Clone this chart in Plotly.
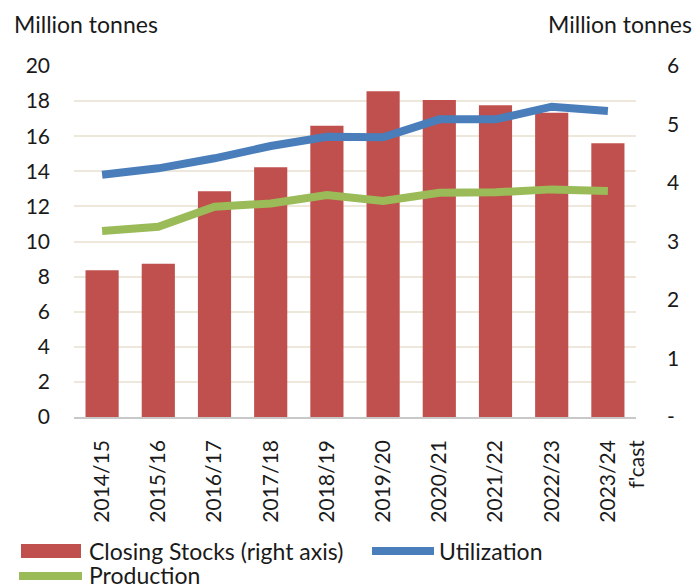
import plotly.graph_objects as go

categories = ["2014/15", "2015/16", "2016/17", "2017/18", "2018/19",
              "2019/20", "2020/21", "2021/22", "2022/23", "2023/24"]
forecast_note = "f'cast"
closing_stocks = [2.51, 2.62, 3.86, 4.27, 4.98, 5.57, 5.42, 5.33, 5.20, 4.68]
utilization = [13.8, 14.17, 14.74, 15.44, 15.97, 15.94, 16.96, 16.96, 17.68, 17.44]
production = [10.6, 10.84, 11.98, 12.17, 12.65, 12.31, 12.78, 12.8, 12.97, 12.88]

left_ticks = list(range(0, 21, 2))
right_ticks = list(range(0, 7))
right_ticktext = ["-"] + [str(v) for v in right_ticks[1:]]

RED = "#C0504D"
BLUE = "#4A7EBB"
GREEN = "#9BBB59"
FONT = "Lato"
TXT = "#1a1a1a"
TICK_SIZE = 21
TEXT_SIZE = 23

W, H = 697, 586
ML, MR, MT, MB = 74, 61, 66, 169
PW, PH = W - ML - MR, H - MT - MB


def px(x):
    return (x - ML) / PW


def py(y):
    return (H - MB - y) / PH


fig = go.Figure()
fig.add_trace(go.Bar(x=categories, y=closing_stocks, name="Closing Stocks (right axis)",
                     marker=dict(color=RED, line=dict(width=0)), yaxis="y"))
fig.add_trace(go.Scatter(x=categories, y=utilization, name="Utilization", mode="lines",
                         line=dict(color=BLUE, width=8), yaxis="y2"))
fig.add_trace(go.Scatter(x=categories, y=production, name="Production", mode="lines",
                         line=dict(color=GREEN, width=8), yaxis="y2"))

fig.update_layout(
    width=W, height=H,
    margin=dict(l=ML, r=MR, t=MT, b=MB, pad=0, autoexpand=False),
    paper_bgcolor="white", plot_bgcolor="white",
    font=dict(family=FONT, size=TICK_SIZE, color=TXT),
    showlegend=False,
    bargap=0.41,
    xaxis=dict(showgrid=False, showline=True, linecolor="#C8C8C8", linewidth=1.5,
               range=[-0.5, len(categories) - 0.5], autorange=False,
               tickangle=-90, ticks="", ticklabelstandoff=13, automargin=False,
               tickfont=dict(size=TICK_SIZE)),
    yaxis=dict(side="right", range=[0, 6], tickvals=right_ticks, ticktext=right_ticktext,
               showgrid=False, zeroline=False, ticks="", ticklabelstandoff=30,
               automargin=False, tickfont=dict(size=TICK_SIZE)),
    yaxis2=dict(side="left", overlaying="y", range=[0, 20], tickvals=left_ticks,
                showgrid=True, gridcolor="#EEE8DC", gridwidth=1.5, zeroline=False,
                ticks="", ticklabelstandoff=23, automargin=False,
                tickfont=dict(size=TICK_SIZE)),
)

annotations = [
    dict(text="Million tonnes", x=px(12), y=py(24), xanchor="left", yanchor="middle"),
    dict(text="Million tonnes", x=px(694), y=py(24), xanchor="right", yanchor="middle"),
    dict(text="Closing Stocks (right axis)", x=px(87), y=py(551), xanchor="left", yanchor="middle"),
    dict(text="Utilization", x=px(437), y=py(551), xanchor="left", yanchor="middle"),
    dict(text="Production", x=px(87), y=py(575), xanchor="left", yanchor="middle"),
]
for a in annotations:
    a.update(xref="paper", yref="paper", showarrow=False,
             font=dict(family=FONT, size=TEXT_SIZE, color=TXT))
annotations.append(dict(text=forecast_note, x=categories[-1], xref="x", xshift=28,
                        y=py(437), yref="paper", yanchor="top", xanchor="center",
                        textangle=-90, showarrow=False,
                        font=dict(family=FONT, size=TICK_SIZE, color=TXT)))
fig.update_layout(annotations=annotations)

shapes = [
    dict(type="rect", x0=px(21), x1=px(81), y0=py(544), y1=py(558),
         fillcolor=RED, line=dict(width=0)),
    dict(type="line", x0=px(372), x1=px(434), y0=py(551), y1=py(551),
         line=dict(color=BLUE, width=8)),
    dict(type="line", x0=px(19), x1=px(82), y0=py(576), y1=py(576),
         line=dict(color=GREEN, width=8)),
]
for s in shapes:
    s.update(xref="paper", yref="paper")
fig.update_layout(shapes=shapes)

fig.write_html("out.html", config={"displayModeBar": False},
               post_script="document.body.style.margin='0';")
